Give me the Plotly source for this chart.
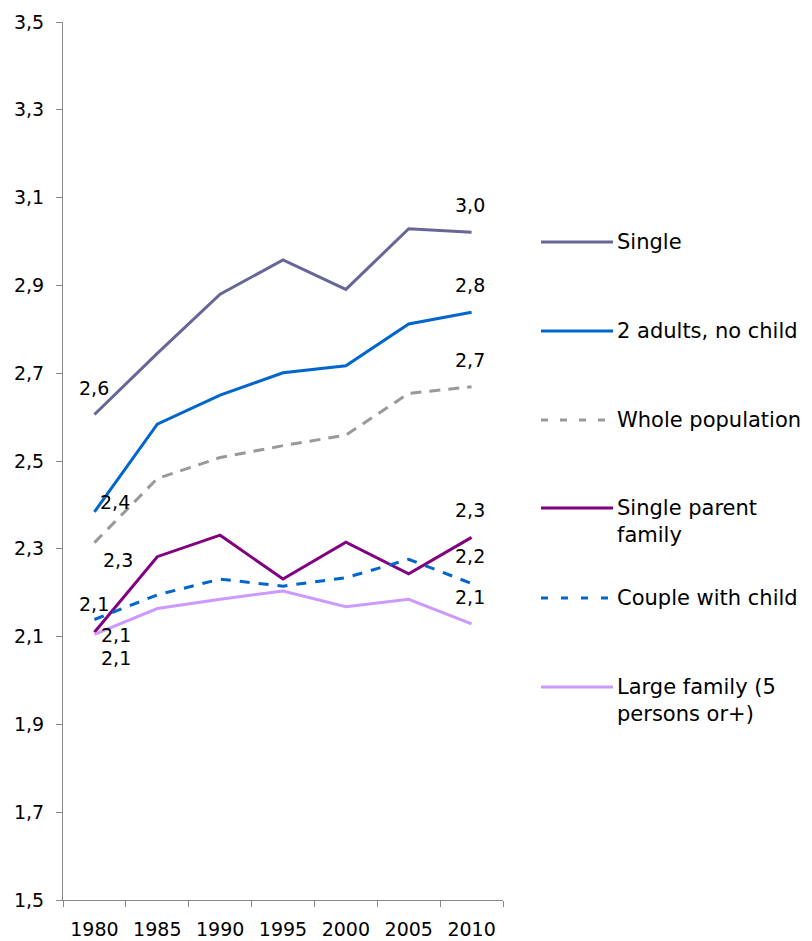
import plotly.graph_objects as go

# Survey years (category axis)
years = ["1980", "1985", "1990", "1995", "2000", "2005", "2010"]

# Index values per household type
single = [2.606, 2.745, 2.880, 2.958, 2.891, 3.029, 3.021]
two_adults_no_child = [2.384, 2.584, 2.650, 2.701, 2.717, 2.812, 2.839]
whole_population = [2.314, 2.460, 2.508, 2.535, 2.559, 2.654, 2.669]
single_parent = [2.110, 2.282, 2.331, 2.231, 2.315, 2.243, 2.326]
couple_with_child = [2.139, 2.195, 2.231, 2.215, 2.234, 2.276, 2.221]
large_family = [2.105, 2.164, 2.185, 2.204, 2.168, 2.185, 2.129]

# y-axis ticks
y_ticks = [1.5, 1.7, 1.9, 2.1, 2.3, 2.5, 2.7, 2.9, 3.1, 3.3, 3.5]

FONT = "DejaVu Sans"

# name, values, colour, chart dash, legend dash, label offset at first point (dx, dy)
series = [
    ("Single", single, "#666699", "solid", "solid", (0, 26)),
    ("2 adults, no child", two_adults_no_child, "#0066CC", "solid", "solid", (21, 10)),
    ("Whole population", whole_population, "#999999", "11px,8px", "7px,12px", (24, -17)),
    ("Single parent<br>family", single_parent, "#800080", "solid", "solid", (22, -3)),
    ("Couple with child", couple_with_child, "#0066CC", "10px,9px", "7px,13px", (0, 15)),
    ("Large family (5<br>persons or+)", large_family, "#CC99FF", "solid", "solid", (22, -24)),
]

fig = go.Figure()

# Plot area in page pixels, used to place the legend rows
L, R, T, B = 63, 503, 22, 900
W, H = 812, 941


def px_x(p):
    return (p - L) / (R - L)


def px_y(p):
    return (B - p) / (B - T)


def fmt(v):
    return f"{v:.1f}".replace(".", ",")


annotations = []
shapes = []
legend_rows = [242, 331, 420, 508, 598, 687]
first, last = 0, len(years) - 1  # category positions of the labelled points

for (name, vals, color, dash, ldash, (dx, dy)), ly in zip(series, legend_rows):
    fig.add_trace(go.Scatter(
        x=years, y=vals, mode="lines", name=name.replace("<br>", " "),
        line=dict(color=color, width=3, dash=dash),
        showlegend=False, hoverinfo="x+y+name",
    ))
    # value labels at the first and last year
    annotations.append(dict(
        x=first, y=vals[0], xref="x", yref="y", text=fmt(vals[0]),
        showarrow=False, xshift=dx, yshift=dy,
        font=dict(family=FONT, size=19, color="#000000"),
    ))
    annotations.append(dict(
        x=last, y=vals[-1], xref="x", yref="y", text=fmt(vals[-1]),
        showarrow=False, xshift=-2, yshift=27,
        font=dict(family=FONT, size=19, color="#000000"),
    ))
    # legend row: line sample + text
    shapes.append(dict(
        type="line", xref="paper", yref="paper",
        x0=px_x(541), x1=px_x(613), y0=px_y(ly), y1=px_y(ly),
        line=dict(color=color, width=3, dash=ldash),
    ))
    annotations.append(dict(
        x=px_x(615), y=px_y(ly - 14), xref="paper", yref="paper",
        xanchor="left", yanchor="top", align="left",
        text=name, showarrow=False,
        font=dict(family=FONT, size=21, color="#000000"),
    ))

fig.update_layout(
    width=W, height=H,
    margin=dict(l=L, r=W - R, t=T, b=H - B),
    paper_bgcolor="white", plot_bgcolor="white",
    separators=",.",
    font=dict(family=FONT, size=19, color="#000000"),
    annotations=annotations, shapes=shapes,
    showlegend=False,
)

fig.update_xaxes(
    type="category", categoryorder="array", categoryarray=years,
    range=[-0.5, len(years) - 0.5], tickson="boundaries", tickangle=0,
    showline=True, linecolor="#888888", linewidth=1,
    ticks="outside", ticklen=6, tickcolor="#888888",
    showgrid=False, zeroline=False, automargin=False,
    tickfont=dict(family=FONT, size=19, color="#000000"),
    ticklabelstandoff=12,
)

fig.update_yaxes(
    range=[1.5, 3.5], tickvals=y_ticks, tickformat=".1f",
    showline=True, linecolor="#888888", linewidth=1,
    ticks="outside", ticklen=6, tickcolor="#888888",
    showgrid=False, zeroline=False, automargin=False,
    tickfont=dict(family=FONT, size=19, color="#000000"),
    ticklabelstandoff=8,
)

fig.write_html("out.html")
